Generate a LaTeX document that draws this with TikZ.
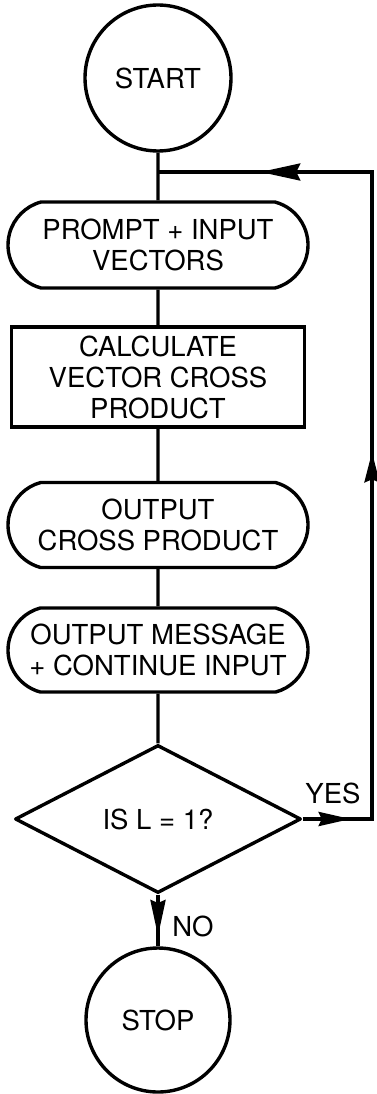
\documentclass[tikz,border=0pt]{standalone}
\usepackage{fontspec}
\setmainfont{TeX Gyre Heros}
\usepackage{tikz}
\usetikzlibrary{shapes.geometric,shapes.misc,arrows.meta,decorations.markings}

\begin{document}
\begin{tikzpicture}[
    x=1pt,
    y=1pt,
    line width=3.4pt,
    every node/.style={
        font=\fontsize{27.5}{31}\selectfont,
        align=center
    },
    terminal/.style={
        draw,
        circle,
        minimum size=146pt,
        inner sep=0pt
    },
    io/.style={
        draw,
        rounded rectangle,
        rounded rectangle arc length=150,
        minimum width=300pt,
        minimum height=86pt,
        inner sep=0pt
    },
    process/.style={
        draw,
        rectangle,
        minimum width=293pt,
        minimum height=100pt,
        inner sep=0pt
    },
    decision/.style={
        draw,
        diamond,
        line join=round,
        minimum width=286pt,
        minimum height=148pt,
        inner sep=0pt
    },
    flowtip/.style={
        postaction={decorate},
        decoration={
            markings,
            mark=at position #1 with {\arrow{Stealth[length=36pt,width=15pt,inset=3pt]}}
        }
    },
    backloop/.style={
        postaction={decorate},
        decoration={
            markings,
            mark=at position 48pt with {\arrow{Stealth[length=32pt,width=14pt,inset=3pt]}},
            mark=at position 436pt with {\arrow{Stealth[length=30pt,width=15pt,inset=3pt]}},
            mark=at position 828pt with {\arrow{Stealth[length=40pt,width=17pt,inset=4pt]}}
        }
    }
]

\useasboundingbox (0,0) rectangle (377,-1094);

% boxes
\node[terminal] (start) at (158,-78) {START};
\node[io] (prompt) at (158,-245) {PROMPT + INPUT\\VECTORS};
\node[process] (calc) at (158,-377) {CALCULATE\\VECTOR CROSS\\PRODUCT};
\node[io, minimum height=85pt] (outcp) at (158,-525) {OUTPUT\\CROSS PRODUCT};
\node[io, minimum height=84pt] (outmsg) at (158,-650) {OUTPUT MESSAGE\\+ CONTINUE INPUT};
\node[decision] (test) at (158,-819) {IS L = 1?};
\node[terminal, minimum size=144pt] (stop) at (158,-1020) {STOP};

% return path
\coordinate (join) at (158,-172);
\coordinate (rbot) at (372,-819);
\coordinate (rtop) at (372,-172);

\draw (start) -- (prompt);
\draw (prompt) -- (calc);
\draw (calc) -- (outcp);
\draw (outcp) -- (outmsg);
\draw (outmsg) -- (test);
\draw[flowtip=0.8] (test) -- (stop);
\draw[backloop] (test.east) -- (rbot) -- (rtop) -- (join);

\node (yes) at (333,-793) {YES};
\node (no) at (193,-926) {NO};

\end{tikzpicture}
\end{document}
